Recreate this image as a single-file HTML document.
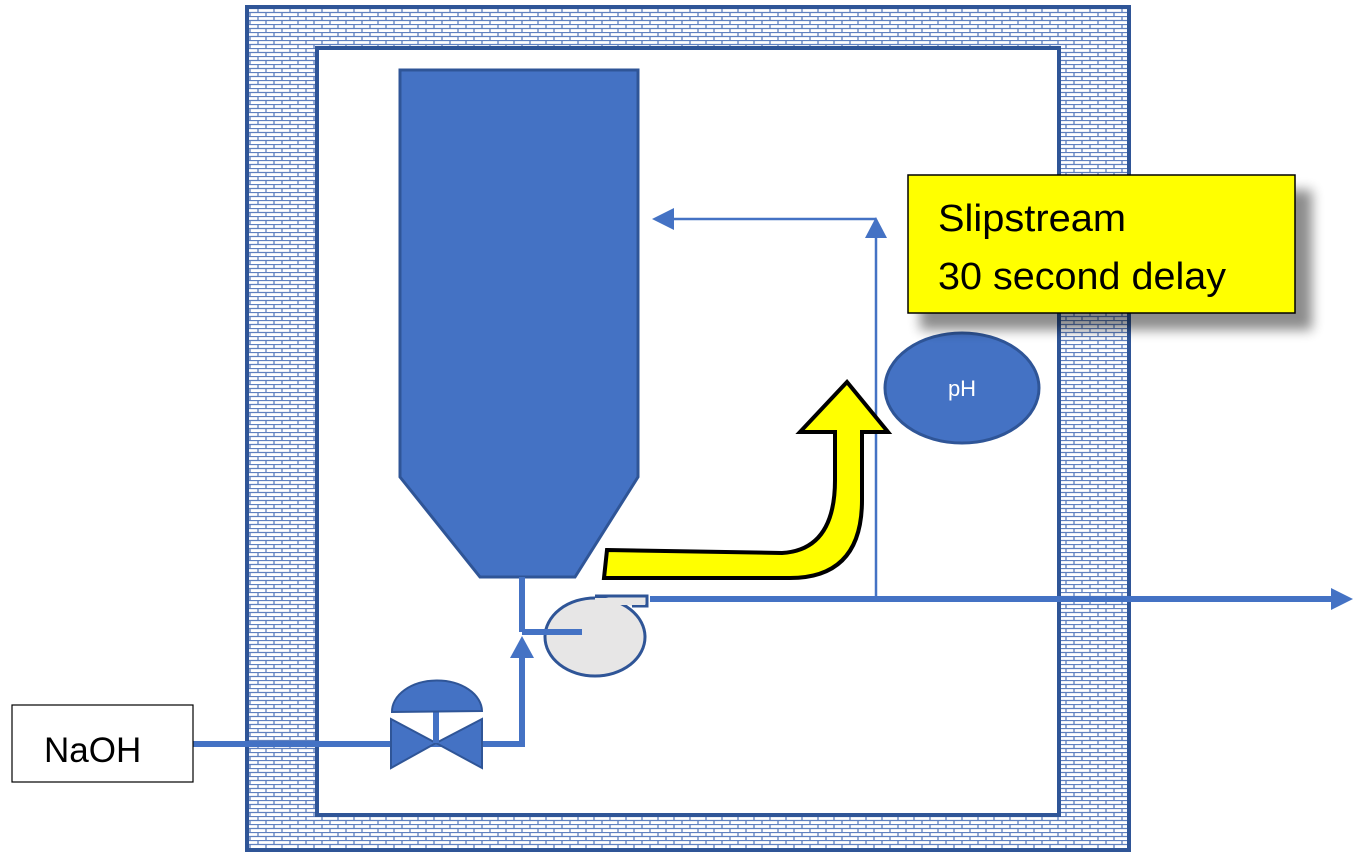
<!DOCTYPE html>
<html><head><meta charset="utf-8"><style>html,body{margin:0;padding:0;background:#fff}svg{display:block}</style></head>
<body>
<svg width="1358" height="861" viewBox="0 0 1358 861" xmlns="http://www.w3.org/2000/svg">
<defs>
<pattern id="brick" width="16" height="8" patternUnits="userSpaceOnUse">
<rect width="16" height="8" fill="#fff"/>
<path d="M0 0.5H16M0 4.5H16M2 0V4.5M10 4.5V8" stroke="#5f80bf" stroke-width="1.3" fill="none"/>
</pattern>
<filter id="sh" x="-10%" y="-10%" width="130%" height="140%"><feGaussianBlur stdDeviation="6"/></filter>
</defs>
<rect x="247" y="7" width="882" height="843" fill="url(#brick)" stroke="#2F5597" stroke-width="4"/>
<rect x="317" y="48" width="742" height="767" fill="#fff" stroke="#2F5597" stroke-width="4"/>
<polygon points="400,70 638,70 638,477 575,577 480,577 400,477" fill="#4472C4" stroke="#2F5597" stroke-width="3"/>
<g stroke="#4472C4" stroke-width="6" fill="none">
<path d="M522 577V632"/>
<path d="M193 744H522V656"/>
<path d="M650 599H1336"/>
</g>
<polygon points="522,636 510,658 534,658" fill="#4472C4"/>
<polygon points="1353,599 1331,588 1331,610" fill="#4472C4"/>
<g stroke="#4472C4" stroke-width="2.5" fill="none"><path d="M876 599V236M876 219H670"/></g>
<polygon points="876,217 865,238 887,238" fill="#4472C4"/>
<polygon points="652,219 674,208 674,230" fill="#4472C4"/>
<path d="M595 596H647V606H632" fill="#E7E6E6" stroke="#2F5597" stroke-width="3"/>
<ellipse cx="595" cy="637" rx="50" ry="39" fill="#E7E6E6" stroke="#2F5597" stroke-width="3"/>
<rect x="595" y="598" width="50" height="7" fill="#E7E6E6"/>
<path d="M522 632H582" stroke="#4472C4" stroke-width="6"/>
<polygon points="391,719 391,768 436,743" fill="#4472C4" stroke="#2F5597" stroke-width="2"/>
<polygon points="482,719 482,768 436,743" fill="#4472C4" stroke="#2F5597" stroke-width="2"/>
<path d="M436 712V743" stroke="#4472C4" stroke-width="6"/>
<path d="M392 712A45 31 0 0 1 482 711Z" fill="#4472C4" stroke="#2F5597" stroke-width="2"/>
<rect x="12" y="705" width="181" height="77" fill="#fff" stroke="#000" stroke-width="1.2"/>
<text x="44" y="762" font-family="Liberation Sans, sans-serif" font-size="35" fill="#000">NaOH</text>
<path d="M607 550L782 553Q835 550 835 480V432H800L847 382L888 432H862V500Q862 578 790 578H604Z" fill="#FFFF00" stroke="#000" stroke-width="4" stroke-linejoin="miter"/>
<ellipse cx="962" cy="388" rx="77" ry="55" fill="#4472C4" stroke="#2F5597" stroke-width="3"/>
<text x="962" y="396" text-anchor="middle" font-family="Liberation Sans, sans-serif" font-size="22" fill="#fff">pH</text>
<rect x="920" y="190" width="392" height="140" fill="#000" opacity="0.45" filter="url(#sh)"/>
<rect x="908" y="175" width="387" height="138" fill="#FFFF00" stroke="#000" stroke-width="1.5"/>
<text x="938" y="231" font-family="Liberation Sans, sans-serif" font-size="38" textLength="188" lengthAdjust="spacingAndGlyphs" fill="#000">Slipstream</text>
<text x="938" y="289" font-family="Liberation Sans, sans-serif" font-size="38" textLength="288" lengthAdjust="spacingAndGlyphs" fill="#000">30 second delay</text>
</svg>
</body></html>
